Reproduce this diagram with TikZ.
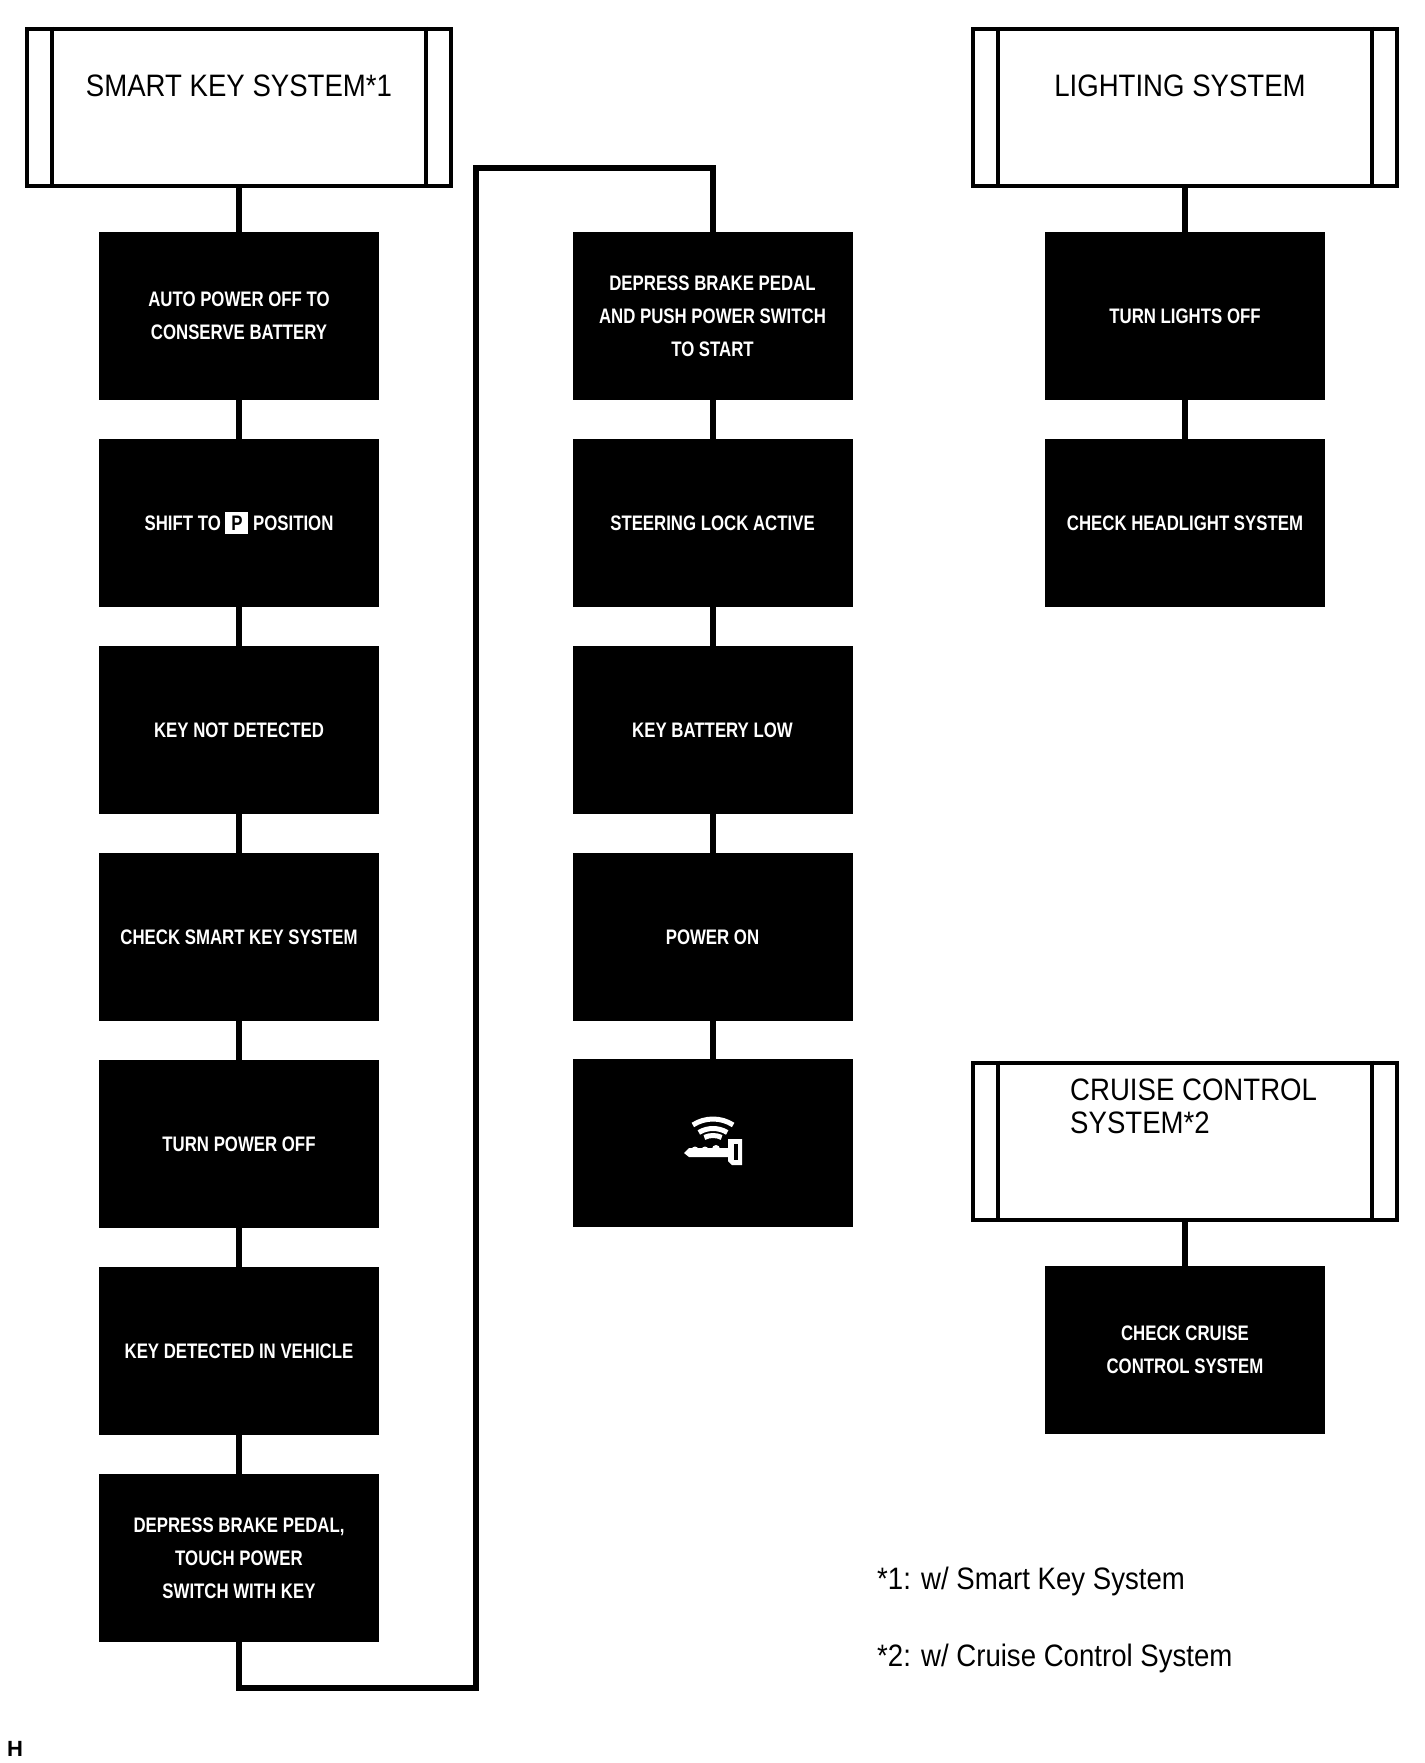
\documentclass[tikz,border=0pt]{standalone}
\usepackage{fontspec}
\setmainfont{Liberation Sans}
\newfontfamily\titlefont[FakeStretch=0.89]{Liberation Sans}
\newfontfamily\boxfont[FakeStretch=0.8]{Liberation Sans}
\newcommand{\pbadge}{{\setlength{\fboxsep}{0pt}\colorbox{white}{\makebox[23pt]{\rule[-3.5pt]{0pt}{22pt}\textcolor{black}{P}}}}}
\begin{document}
\begin{tikzpicture}[x=1pt,y=-1pt,
  hdr/.style={draw=black, line width=4pt, minimum width=424pt, minimum height=157pt, inner sep=0pt},
  stepbox/.style={fill=black, minimum width=280pt, minimum height=168pt, inner sep=0pt, text=white, align=center, font=\boxfont\bfseries\fontsize{21}{33}\selectfont},
  ttl/.style={font=\titlefont\fontsize{31}{33}\selectfont, inner sep=0pt},
  conn/.style={line width=6pt},
]
\useasboundingbox[fill=white] (0,0) rectangle (1424,1763);

% header boxes
\node[hdr] (hs) at (239,107.5) {};
\node[hdr] (hl) at (1185,107.5) {};
\node[hdr] (hc) at (1185,1141) {};
\foreach \n in {hs,hl,hc} {
  \draw[line width=4pt] ([xshift=27pt]\n.north west) -- ([xshift=27pt]\n.south west);
  \draw[line width=4pt] ([xshift=-27pt]\n.north east) -- ([xshift=-27pt]\n.south east);
}
\node[ttl, anchor=base] (ts) at (239,97) {SMART KEY SYSTEM*1};
\node[ttl, anchor=base] (tl) at (1180,97) {LIGHTING SYSTEM};
\node[ttl, anchor=base west] (tc1) at (1070,1100) {CRUISE CONTROL};
\node[ttl, anchor=base west] (tc2) at (1070,1133) {SYSTEM*2};

% left column
\node[stepbox] (a1) at (239,316) {AUTO POWER OFF TO\\CONSERVE BATTERY};
\node[stepbox] (a2) at (239,523) {SHIFT TO \pbadge{} POSITION};
\node[stepbox] (a3) at (239,730) {KEY NOT DETECTED};
\node[stepbox] (a4) at (239,937) {CHECK SMART KEY SYSTEM};
\node[stepbox] (a5) at (239,1144) {TURN POWER OFF};
\node[stepbox] (a6) at (239,1351) {KEY DETECTED IN VEHICLE};
\node[stepbox] (a7) at (239,1558) {DEPRESS BRAKE PEDAL,\\TOUCH POWER\\SWITCH WITH KEY};

% middle column
\node[stepbox] (b1) at (712.5,316) {DEPRESS BRAKE PEDAL\\AND PUSH POWER SWITCH\\TO START};
\node[stepbox] (b2) at (712.5,523) {STEERING LOCK ACTIVE};
\node[stepbox] (b3) at (712.5,730) {KEY BATTERY LOW};
\node[stepbox] (b4) at (712.5,937) {POWER ON};
\node[stepbox] (b5) at (712.5,1143) {};

% right column
\node[stepbox] (c1) at (1185,316) {TURN LIGHTS OFF};
\node[stepbox] (c2) at (1185,523) {CHECK HEADLIGHT SYSTEM};
\node[stepbox] (c3) at (1185,1350) {CHECK CRUISE\\CONTROL SYSTEM};

% connectors
\draw[conn] (hs.south) -- (a1.north);
\draw[conn] (a1.south) -- (a2.north);
\draw[conn] (a2.south) -- (a3.north);
\draw[conn] (a3.south) -- (a4.north);
\draw[conn] (a4.south) -- (a5.north);
\draw[conn] (a5.south) -- (a6.north);
\draw[conn] (a6.south) -- (a7.north);
\draw[conn] (b1.south) -- (b2.north);
\draw[conn] (b2.south) -- (b3.north);
\draw[conn] (b3.south) -- (b4.north);
\draw[conn] (b4.south) -- (b5.north);
\draw[conn] (hl.south) -- (c1.north);
\draw[conn] (c1.south) -- (c2.north);
\draw[conn] (hc.south) -- (c3.north);
\coordinate (lb) at (476,1688);
\coordinate (lt) at (476,168);
\draw[conn, line join=miter] (a7.south) |- (lb) -- (lt) -| (b1.north);

% key icon
\begin{scope}[white]
  \draw[line width=5pt] (713,1156) ++(237:37) arc[start angle=237, end angle=303, radius=37];
  \draw[line width=5pt] (713,1156) ++(239:27.5) arc[start angle=239, end angle=301, radius=27.5];
  \draw[line width=5pt] (713,1156) ++(245:20.5) arc[start angle=245, end angle=295, radius=20.5];
  \fill (684,1153) -- (689,1148) -- (729,1148) -- (729,1157) -- (689,1157) -- cycle;
  \fill (695,1150) circle[radius=3.5];
  \fill (705,1150) circle[radius=3.5];
  \fill (716,1149) circle[radius=4];
  \fill (728,1139) -- (742,1139) -- (742,1165) -- (732,1165) -- (728,1161) -- cycle;
  \fill[black] (734,1144) rectangle (738,1160);
\end{scope}

% footnotes
\node[ttl, anchor=base west] (f1) at (877,1589) {*1: w/ Smart Key System};
\node[ttl, anchor=base west] (f2) at (877,1666) {*2: w/ Cruise Control System};
\node[anchor=base west, inner sep=0pt, font=\bfseries\fontsize{22}{22}\selectfont] (hm) at (7,1756) {H};
\end{tikzpicture}
\end{document}
